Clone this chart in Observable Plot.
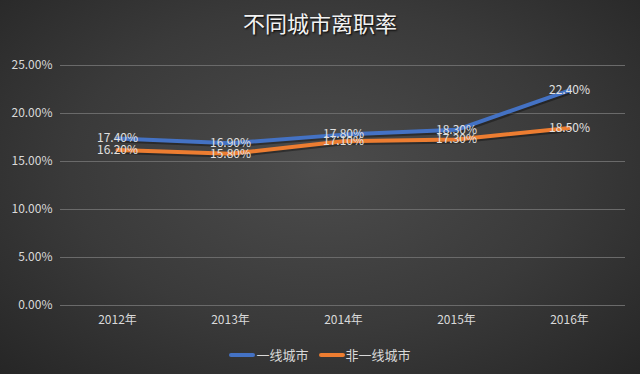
<!DOCTYPE html>
<html>
<head>
<meta charset="utf-8">
<script src="https://cdn.jsdelivr.net/npm/d3@7"></script>
<script src="https://cdn.jsdelivr.net/npm/@observablehq/plot@0.6"></script>
<style>
  html, body { margin: 0; padding: 0; }
  #wrap {
    width: 640px; height: 374px; overflow: hidden;
    background: radial-gradient(ellipse at 50% 45%, #4c4c4c 0%, #3a3a3a 55%, #262626 100%);
    font-family: "Noto Sans CJK SC", "Noto Sans", sans-serif;
    color: #d9d9d9;
  }
  #title {
    height: 45px; line-height: 44px; text-align: center;
    font-size: 22px; color: #f2f2f2;
    text-shadow: 1px 1px 2px #000;
  }
  #legend {
    height: 39px; display: flex; justify-content: center; align-items: center;
    font-size: 13px; color: #d9d9d9; gap: 10px;
  }
  .item { display: flex; align-items: center; }
  .sw { width: 26px; height: 4px; border-radius: 2px; margin-right: 1px; }
</style>
</head>
<body>
<div id="wrap">
  <div id="title">不同城市离职率</div>
  <div id="chart"></div>
  <div id="legend"></div>
</div>
<script>
const years = ["2012年", "2013年", "2014年", "2015年", "2016年"];
const seriesNames = ["一线城市", "非一线城市"];
const tier1 = [17.4, 16.9, 17.8, 18.3, 22.4];
const nonTier1 = [16.2, 15.8, 17.1, 17.3, 18.5];
const colors = ["#4472C4", "#ED7D31"];
const yTicks = [0, 5, 10, 15, 20, 25];

const rows = [];
[tier1, nonTier1].forEach((vals, si) => {
  vals.forEach((v, i) => rows.push({year: years[i], value: v, series: seriesNames[si]}));
});

const fmt = v => v.toFixed(2) + "%";

const chart = Plot.plot({
  width: 640,
  height: 290,
  marginTop: 20,
  marginBottom: 30,
  marginLeft: 60,
  marginRight: 15,
  style: {background: "transparent", color: "#d9d9d9", fontFamily: "'Noto Sans CJK SC', sans-serif", fontSize: "12px"},
  x: {type: "point", domain: years, padding: 0.5, label: null},
  y: {domain: [0, 25], ticks: yTicks, tickFormat: fmt, label: null},
  color: {domain: seriesNames, range: colors},
  marks: [
    Plot.gridY(yTicks, {stroke: "#6a6a6a", strokeOpacity: 1, strokeWidth: 1}),
    Plot.axisY(yTicks, {tickSize: 0, tickPadding: 8, tickFormat: fmt, fill: "#d9d9d9", fontSize: 12}),
    Plot.axisX({tickSize: 0, tickPadding: 10, fill: "#d9d9d9", fontSize: 12}),
    Plot.line(rows, {x: "year", y: "value", z: "series", stroke: "#000", strokeWidth: 4, strokeOpacity: 0.35, dx: 1, dy: 2}),
    Plot.line(rows, {x: "year", y: "value", z: "series", stroke: "series", strokeWidth: 4, strokeLinecap: "round"}),
    Plot.text(rows, {x: "year", y: "value", text: d => fmt(d.value), fill: "#e0e0e0", fontSize: 12})
  ]
});
document.getElementById("chart").appendChild(chart);

const legend = document.getElementById("legend");
seriesNames.forEach((n, i) => {
  const it = document.createElement("div");
  it.className = "item";
  it.innerHTML = `<span class="sw" style="background:${colors[i]}"></span><span>${n}</span>`;
  legend.appendChild(it);
});
</script>
</body>
</html>
